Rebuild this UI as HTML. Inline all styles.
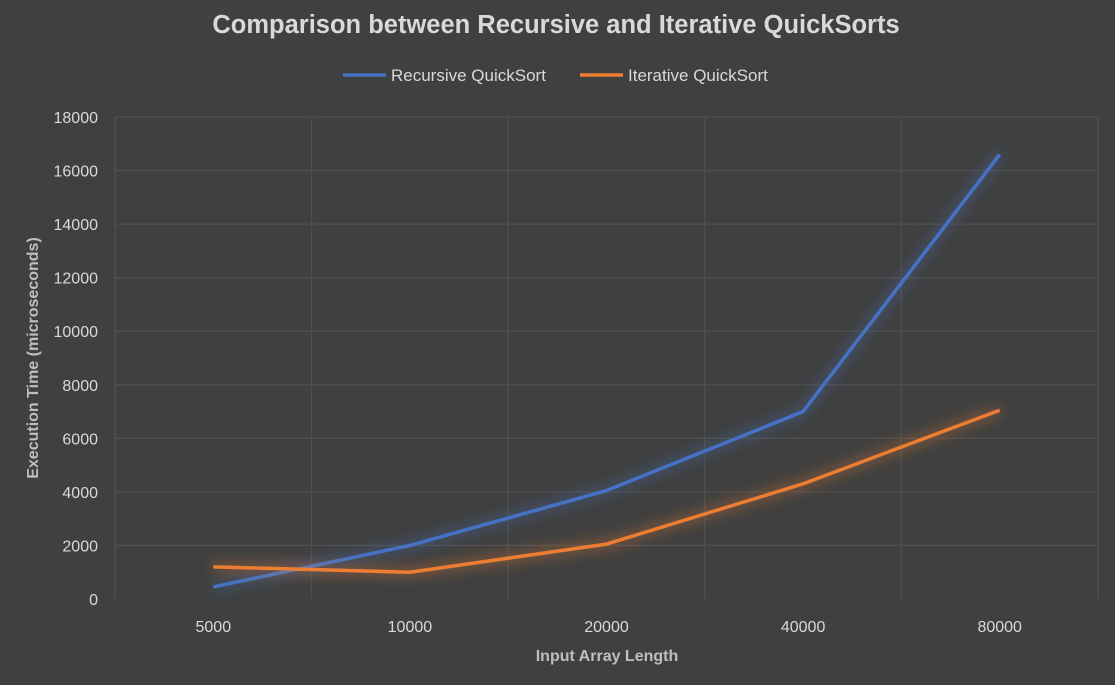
<!DOCTYPE html>
<html><head><meta charset="utf-8"><style>
body{margin:0;background:#404040;}
svg{display:block;font-family:"Liberation Sans",sans-serif;}
</style></head><body>
<svg id="chart" width="1115" height="685">
<defs>
<filter id="glow" x="-20%" y="-20%" width="140%" height="140%">
<feGaussianBlur in="SourceGraphic" stdDeviation="7" result="b"/>
<feMerge><feMergeNode in="b"/><feMergeNode in="SourceGraphic"/></feMerge>
</filter>
</defs>
<rect width="1115" height="685" fill="#404040"/>
<text x="556" y="33" text-anchor="middle" font-size="25.5" font-weight="bold" fill="#d9d9d9">Comparison between Recursive and Iterative QuickSorts</text>
<g>
<line x1="343" y1="75" x2="386" y2="75" stroke="#4472c4" stroke-width="3.5"/>
<text x="391" y="81" font-size="17" fill="#d9d9d9">Recursive QuickSort</text>
<line x1="580" y1="75" x2="623" y2="75" stroke="#ed7d31" stroke-width="3.5"/>
<text x="628" y="81" font-size="17" fill="#d9d9d9">Iterative QuickSort</text>
</g>
<g id="grid"></g><g id="axes"></g><g id="series"></g>
<text x="607" y="661" text-anchor="middle" font-size="16" font-weight="bold" fill="#bfbfbf">Input Array Length</text>
<text transform="translate(38,358) rotate(-90)" text-anchor="middle" font-size="16" font-weight="bold" fill="#bfbfbf">Execution Time (microseconds)</text>
</svg>
<script>
const categories=["5000","10000","20000","40000","80000"];
const recursive=[450,2000,4050,7000,16600];
const iterative=[1200,1000,2050,4300,7050];
const yTicks=[0,2000,4000,6000,8000,10000,12000,14000,16000,18000];
const ns="http://www.w3.org/2000/svg";
const L=115,R=1098,T=117,B=599,yMax=18000;
const band=(R-L)/categories.length;
const xs=i=>L+band*(i+0.5);
const ys=v=>B-(v/yMax)*(B-T);
function mk(t,a,p){const e=document.createElementNS(ns,t);for(const k in a)e.setAttribute(k,a[k]);p.appendChild(e);return e;}
const grid=document.getElementById('grid'),axes=document.getElementById('axes'),ser=document.getElementById('series');
yTicks.forEach(v=>{
 if(v>0){const l=mk('line',{x1:L,x2:R,y1:ys(v),y2:ys(v),stroke:'#4f4f4f','stroke-width':1.3},grid);
 
 }
 const t=mk('text',{x:98,y:ys(v)+6,'text-anchor':'end','font-size':16,fill:'#d9d9d9'},axes);t.textContent=v;
 
 
});
for(let i=0;i<=categories.length;i++){
 const x=L+band*i;const l=mk('line',{x1:x,x2:x,y1:T,y2:B,stroke:'#4f4f4f','stroke-width':1.3},grid);
 
 
}
categories.forEach((c,i)=>{const t=mk('text',{x:xs(i),y:632,'text-anchor':'middle','font-size':16,fill:'#d9d9d9'},axes);t.textContent=c;
 
 });
function line(vals,color,name){
 const p=mk('polyline',{points:vals.map((v,i)=>xs(i)+','+ys(v)).join(' '),fill:'none',stroke:color,'stroke-width':3.5,'stroke-linejoin':'round',filter:'url(#glow)'},ser);
 
 
}
line(recursive,'#4472c4','recursive-line');
line(iterative,'#ed7d31','iterative-line');
</script>
</body></html>
